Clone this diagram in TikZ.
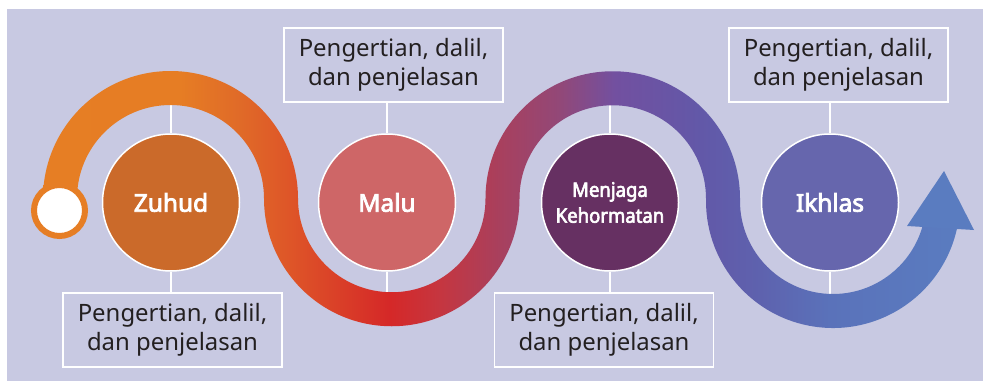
\documentclass[tikz,border=0pt]{standalone}
\usepackage{fontspec}
\setmainfont{Noto Sans}
\newfontfamily\labelfont{Noto Sans}[FakeBold=3.2]
\newfontfamily\condfont{Noto Sans}[FakeBold=3,FakeStretch=0.93]

\definecolor{bgcol}{RGB}{200,201,226}
\definecolor{textdark}{HTML}{231F20}
\definecolor{zuhudcol}{HTML}{CB6A2A}
\definecolor{malucol}{HTML}{CE6667}
\definecolor{menjagacol}{HTML}{663062}
\definecolor{ikhlascol}{HTML}{6666AD}
\definecolor{orangecol}{HTML}{E67E25}
\definecolor{headcol}{HTML}{5A7CC0}
\definecolor{ca}{HTML}{E67E24}
\definecolor{cb}{HTML}{E67D24}
\definecolor{cc}{HTML}{E06A28}
\definecolor{cd}{HTML}{DE5528}
\definecolor{ce}{HTML}{D52828}
\definecolor{cf}{HTML}{C53640}
\definecolor{cg}{HTML}{A8405E}
\definecolor{ch}{HTML}{924878}
\definecolor{ci}{HTML}{7250A0}
\definecolor{cj}{HTML}{6258A8}
\definecolor{ck}{HTML}{5E62AE}
\definecolor{cl}{HTML}{5A72BA}
\definecolor{cm}{HTML}{5A7CC0}

\pgfdeclarehorizontalshading{ribbonshade}{100bp}{color(0bp)=(ca); color(25bp)=(ca); color(34bp)=(cb); color(37bp)=(cc); color(39.5bp)=(cd); color(44.5bp)=(ce); color(47bp)=(cf); color(50bp)=(cg); color(53bp)=(ch); color(55.75bp)=(ci); color(60bp)=(cj); color(63bp)=(ck); color(66.5bp)=(cl); color(73bp)=(cm); color(100bp)=(cm)}

\pgfdeclarelayer{bglayer}
\pgfdeclarelayer{linelayer}
\pgfdeclarelayer{riblayer}
\pgfsetlayers{bglayer,linelayer,riblayer,main}

\tikzset{
  infobox/.style={draw=white, line width=1.8bp, minimum width=219bp, minimum height=74bp,
    align=center, text=textdark, inner sep=0pt, font=\fontsize{24}{29.5}\selectfont},
  topic/.style={circle, draw=white, line width=1.5bp, minimum size=137bp, inner sep=0pt,
    text=white, align=center, font=\labelfont\fontsize{24.5}{28}\selectfont},
  link/.style={draw=white, line width=1.5bp},
  startdot/.style={circle, fill=white, draw=orangecol, line width=6bp, minimum size=51bp, inner sep=0pt}
}

\begin{document}
\begin{tikzpicture}[x=1bp,y=1bp]
\useasboundingbox (0,0) rectangle (983,381);
\begin{pgfonlayer}{bglayer}
  \fill[white] (0,0) rectangle (983,381);
  \fill[bgcol] (7,0) rectangle (983,372);
\end{pgfonlayer}

% topic circles
\node[topic, fill=zuhudcol] (zuhud) at (171,178.5) {Zuhud};
\node[topic, fill=malucol] (malu) at (387,178.5) {Malu};
\node[topic, fill=menjagacol, font=\condfont\fontsize{20}{26}\selectfont] (menjaga) at (610,178.5) {Menjaga\\Kehormatan};
\node[topic, fill=ikhlascol] (ikhlas) at (830,178.5) {Ikhlas};

% info boxes
\node[infobox] (b1) at (172.5,51) {Pengertian, dalil,\\dan penjelasan};
\node[infobox] (b2) at (393.5,316) {Pengertian, dalil,\\dan penjelasan};
\node[infobox] (b3) at (604,51) {Pengertian, dalil,\\dan penjelasan};
\node[infobox] (b4) at (838.5,316) {Pengertian, dalil,\\dan penjelasan};

% free ends of connectors (hidden under the ribbon)
\coordinate (zt) at (171,290);
\coordinate (mb) at (387,80);
\coordinate (kt) at (610,290);
\coordinate (ib) at (830,80);

\begin{pgfonlayer}{linelayer}
  \draw[link] (zuhud.north) -- (zt);
  \draw[link] (zuhud.south) -- (zuhud.south |- b1.north);
  \draw[link] (malu.north) -- (malu.north |- b2.south);
  \draw[link] (malu.south) -- (mb);
  \draw[link] (menjaga.north) -- (kt);
  \draw[link] (menjaga.south) -- (menjaga.south |- b3.north);
  \draw[link] (ikhlas.north) -- (ikhlas.north |- b4.south);
  \draw[link] (ikhlas.south) -- (ib);
\end{pgfonlayer}

\begin{pgfonlayer}{riblayer}
  \begin{scope}
    \clip (43,171) -- (43,182.5)
      arc[start angle=180, end angle=0, radius=127.5]
      arc[start angle=180, end angle=360, radius=93.75]
      arc[start angle=180, end angle=0, radius=127.25]
      -- (740,180)
      arc[start angle=180, end angle=352, radius=93]
      -- (958.76,162.33)
      arc[start angle=352, end angle=180, radius=127]
      -- (706,182.5)
      arc[start angle=0, end angle=180, radius=93.25]
      arc[start angle=360, end angle=180, radius=127.75]
      arc[start angle=0, end angle=180, radius=93.5]
      -- (77,171) -- cycle;
    \shade[shading=ribbonshade] (0,0) rectangle (1000,381);
  \end{scope}
  \fill[headcol] (907,155) -- (944,210) -- (974,151) -- cycle;
\end{pgfonlayer}

\node[startdot] (start) at (59.5,170.5) {};
\end{tikzpicture}
\end{document}
